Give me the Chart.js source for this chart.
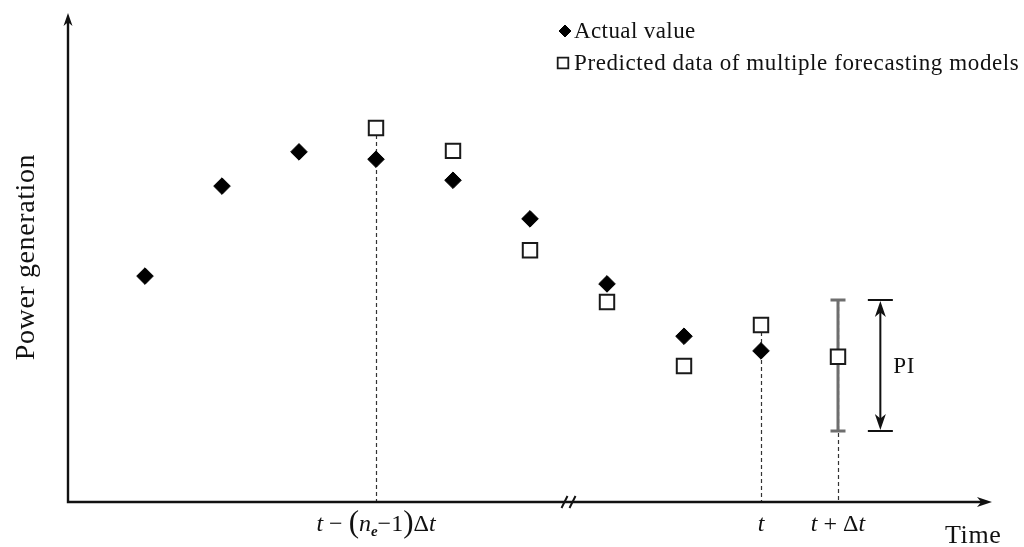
<!DOCTYPE html>
<html>
<head>
<meta charset="utf-8">
<script src="https://cdn.jsdelivr.net/npm/chart.js@4.4.1/dist/chart.umd.min.js"></script>
<style>
  html, body { margin: 0; padding: 0; background: #fff; }
  #wrap { width: 1024px; height: 547px; }
</style>
</head>
<body>
<div id="wrap"><canvas id="c" width="1024" height="547"></canvas></div>
<script>
// ---- data ----
const actualX = [1, 2, 3, 4, 5, 6, 7, 8, 9];
const actualY = [46.2, 64.6, 71.6, 70.1, 65.8, 57.9, 44.6, 33.9, 30.9];
const predictedX = [4, 5, 6, 7, 8, 9, 10];
const predictedY = [76.5, 71.8, 51.5, 40.9, 27.8, 36.2, 29.7];
const piX = 10;           // step whose prediction interval is shown
const piLow = 14.5;
const piHigh = 41.3;
const piBracketX = 10.55; // where the "PI" dimension arrow sits
const axisBreakX = 6.5;   // time-axis break
const tickX = [4, 9, 10];
const tickLabels = ['t − (n_e−1)Δt', 't', 't + Δt'];
const seriesNames = ['Actual value', 'Predicted data of multiple forecasting models'];
const xTitle = 'Time';
const yTitle = 'Power generation';
const piLabel = 'PI';

const SERIF = "'Liberation Serif', 'DejaVu Serif', serif";
const INK = '#111';

// split a tick label into styled runs: latin letters italic, "_x" subscript, big parentheses
function labelRuns(label, size) {
  const out = [];
  for (let i = 0; i < label.length; i++) {
    let ch = label[i];
    if (ch === '_') {
      ch = label[++i];
      out.push({ t: ch, font: `bold italic ${Math.round(size * 0.62)}px ${SERIF}`, dy: size * 0.22 });
    } else if (ch === '(' || ch === ')') {
      out.push({ t: ch, font: `${Math.round(size * 1.3)}px ${SERIF}`, dy: size * 0.06 });
    } else if (/[A-Za-z]/.test(ch)) {
      out.push({ t: ch, font: `italic ${size}px ${SERIF}`, dy: 0 });
    } else {
      out.push({ t: ch, font: `${size}px ${SERIF}`, dy: 0 });
    }
  }
  return out;
}

function drawRuns(ctx, runs, cx, baseY) {
  let total = 0;
  runs.forEach(r => { ctx.font = r.font; r.w = ctx.measureText(r.t).width; total += r.w; });
  let x = cx - total / 2;
  ctx.textAlign = 'left';
  ctx.textBaseline = 'alphabetic';
  runs.forEach(r => { ctx.font = r.font; ctx.fillText(r.t, x, baseY + r.dy); x += r.w; });
}

function arrowHead(ctx, tipX, tipY, dirX, dirY, len, half) {
  const bx = tipX - dirX * len, by = tipY - dirY * len;
  const px = -dirY, py = dirX;
  ctx.beginPath();
  ctx.moveTo(tipX, tipY);
  ctx.lineTo(bx + px * half, by + py * half);
  ctx.lineTo(tipX - dirX * len * 0.72, tipY - dirY * len * 0.72);
  ctx.lineTo(bx - px * half, by - py * half);
  ctx.closePath();
  ctx.fill();
}

const sketch = {
  id: 'sketch',
  beforeDatasetsDraw(chart) {
    const { ctx, chartArea: a, scales: { x, y } } = chart;
    ctx.save();
    // dashed drop lines from the highest mark at each labelled step down to the time axis
    ctx.setLineDash([4, 3]);
    ctx.lineWidth = 1.2;
    ctx.strokeStyle = '#333';
    tickX.forEach(v => {
      const tops = [];
      actualX.forEach((ax, i) => { if (ax === v) tops.push(actualY[i]); });
      predictedX.forEach((px, i) => { if (px === v) tops.push(predictedY[i]); });
      if (v === piX) tops.push(piHigh);
      const px = Math.round(x.getPixelForValue(v)) + 0.5;
      ctx.beginPath();
      ctx.moveTo(px, y.getPixelForValue(Math.max(...tops)));
      ctx.lineTo(px, a.bottom);
      ctx.stroke();
    });
    ctx.setLineDash([]);
    // prediction interval bar
    const bx = x.getPixelForValue(piX);
    const yHi = y.getPixelForValue(piHigh), yLo = y.getPixelForValue(piLow);
    ctx.strokeStyle = '#6e6e6e';
    ctx.lineWidth = 3;
    ctx.beginPath();
    ctx.moveTo(bx, yHi); ctx.lineTo(bx, yLo);
    ctx.moveTo(bx - 7.5, yHi); ctx.lineTo(bx + 7.5, yHi);
    ctx.moveTo(bx - 7.5, yLo); ctx.lineTo(bx + 7.5, yLo);
    ctx.stroke();
    ctx.restore();
  },
  afterDraw(chart) {
    const { ctx, chartArea: a, scales: { x, y } } = chart;
    ctx.save();
    ctx.strokeStyle = INK;
    ctx.fillStyle = INK;

    // axes with arrow heads
    ctx.lineWidth = 2.4;
    ctx.beginPath();
    ctx.moveTo(a.left, a.top + 8);
    ctx.lineTo(a.left, a.bottom);
    ctx.lineTo(a.right - 8, a.bottom);
    ctx.stroke();
    arrowHead(ctx, a.left, a.top, 0, -1, 13, 4.5);
    arrowHead(ctx, a.right, a.bottom, 1, 0, 15, 5);

    // axis break marks
    const brk = x.getPixelForValue(axisBreakX);
    ctx.lineWidth = 2;
    [-4, 4].forEach(d => {
      ctx.beginPath();
      ctx.moveTo(brk + d - 3, a.bottom + 6);
      ctx.lineTo(brk + d + 3, a.bottom - 6);
      ctx.stroke();
    });

    // PI dimension arrow
    const dx = x.getPixelForValue(piBracketX);
    const yHi = y.getPixelForValue(piHigh), yLo = y.getPixelForValue(piLow);
    ctx.lineWidth = 2;
    ctx.beginPath();
    ctx.moveTo(dx - 12.5, yHi); ctx.lineTo(dx + 12.5, yHi);
    ctx.moveTo(dx - 12.5, yLo); ctx.lineTo(dx + 12.5, yLo);
    ctx.moveTo(dx, yHi + 10); ctx.lineTo(dx, yLo - 10);
    ctx.stroke();
    arrowHead(ctx, dx, yHi + 1, 0, -1, 16, 5.5);
    arrowHead(ctx, dx, yLo - 1, 0, 1, 16, 5.5);
    ctx.font = `23px ${SERIF}`;
    ctx.letterSpacing = '0.5px';
    ctx.textAlign = 'left';
    ctx.textBaseline = 'middle';
    ctx.fillText(piLabel, dx + 13, (yHi + yLo) / 2 + 1);
    ctx.letterSpacing = '0px';

    // tick labels
    tickX.forEach((v, i) => {
      drawRuns(ctx, labelRuns(tickLabels[i], 24), x.getPixelForValue(v), a.bottom + 29);
    });

    // axis titles
    ctx.font = `26px ${SERIF}`;
    ctx.letterSpacing = '0.6px';
    ctx.textAlign = 'left';
    ctx.textBaseline = 'alphabetic';
    ctx.fillText(xTitle, 945, a.bottom + 41);

    ctx.save();
    ctx.translate(34, 257);
    ctx.rotate(-Math.PI / 2);
    ctx.font = `28px ${SERIF}`;
    ctx.letterSpacing = '0.6px';
    ctx.textAlign = 'center';
    ctx.textBaseline = 'alphabetic';
    ctx.fillText(yTitle, 0, 0);
    ctx.restore();

    // legend
    const ds = chart.data.datasets;
    const rows = [{ mx: 565, my: 31 }, { mx: 563, my: 63 }];
    ds.forEach((d, i) => {
      ctx.fillStyle = d.backgroundColor;
      ctx.strokeStyle = d.borderColor;
      ctx.lineWidth = i === 0 ? 1 : 1.8;
      Chart.helpers.drawPoint(ctx, {
        pointStyle: d.pointStyle, radius: i === 0 ? 6 : 7.5, rotation: 0, borderWidth: ctx.lineWidth
      }, rows[i].mx, rows[i].my);
      ctx.fillStyle = INK;
      ctx.font = `23px ${SERIF}`;
      ctx.letterSpacing = i === 0 ? '0.4px' : '0.6px';
      ctx.textAlign = 'left';
      ctx.textBaseline = 'middle';
      ctx.fillText(seriesNames[i], 574, rows[i].my + 1);
    });
    ctx.letterSpacing = '0px';
    ctx.restore();
  }
};

new Chart(document.getElementById('c'), {
  type: 'scatter',
  data: {
    datasets: [
      {
        label: seriesNames[0],
        data: actualX.map((v, i) => ({ x: v, y: actualY[i] })),
        pointStyle: 'rectRot',
        pointRadius: 8.3,
        backgroundColor: '#000',
        borderColor: '#000',
        borderWidth: 1
      },
      {
        label: seriesNames[1],
        data: predictedX.map((v, i) => ({ x: v, y: predictedY[i] })),
        pointStyle: 'rect',
        pointRadius: 10.2,
        backgroundColor: '#fff',
        borderColor: '#1a1a1a',
        borderWidth: 2
      }
    ]
  },
  options: {
    responsive: false,
    animation: false,
    events: [],
    layout: { padding: { left: 68, top: 13, right: 32, bottom: 45 } },
    plugins: { legend: { display: false }, tooltip: { enabled: false } },
    scales: {
      x: { type: 'linear', min: 0, max: 12, display: false },
      y: { type: 'linear', min: 0, max: 100, display: false }
    }
  },
  plugins: [sketch]
});
</script>
</body>
</html>
